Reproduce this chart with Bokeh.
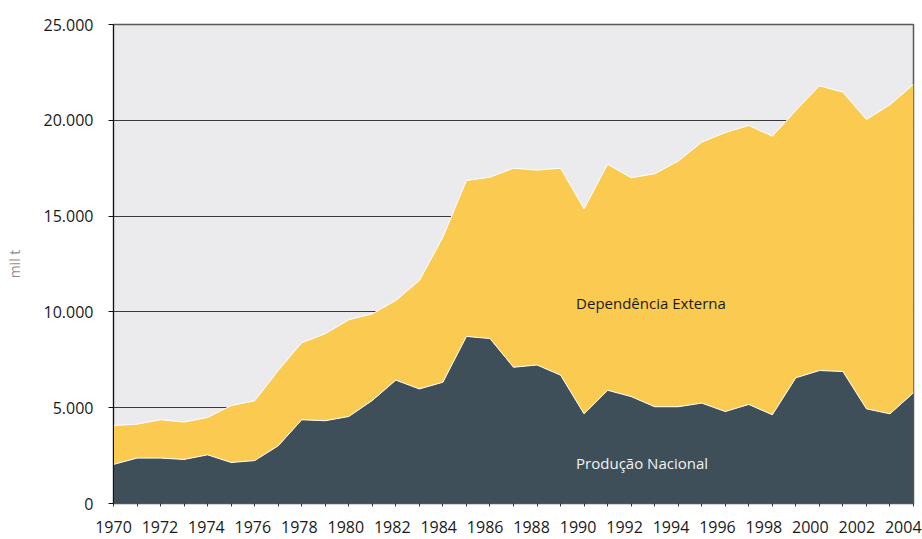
import pandas as pd
from bokeh.plotting import figure
from bokeh.models import (ColumnDataSource, FixedTicker, Range1d, LinearAxis, Label,
                          CustomJSTickFormatter)
from bokeh.embed import file_html
from bokeh.resources import INLINE

# ---------------- data (mil t) ----------------
years = list(range(1970, 2005))
producao = [2040, 2370, 2370, 2300, 2540, 2140, 2240, 3010, 4370, 4320,
            4540, 5380, 6440, 5980, 6330, 8720, 8610, 7110, 7230, 6700,
            4680, 5910, 5580, 5050, 5050, 5240, 4800, 5170, 4630, 6560,
            6940, 6890, 4940, 4680, 5780]
dependencia = [2030, 1770, 2000, 1950, 1950, 2970, 3120, 3930, 4020, 4540,
               5050, 4520, 4160, 5660, 7570, 8140, 8420, 10390, 10170, 10800,
               10700, 11800, 11420, 12160, 12820, 13620, 14560, 14560, 14540, 13950,
               14860, 14580, 15100, 16130, 16090]
series_names = ["Produção Nacional", "Dependência Externa"]
y_ticks = [0, 5000, 10000, 15000, 20000, 25000]
y_tick_labels = ["0", "5.000", "10.000", "15.000", "20.000", "25.000"]
x_label_years = list(range(1970, 2005, 2))
y_axis_title = "mil t"

# ---------------- styling ----------------
DARK = "#3F4F5A"
YELLOW = "#FBCB51"
BG = "#EBEBED"
FONT = "Open Sans"

df = pd.DataFrame({"year": years, "prod": producao, "dep": dependencia})
df["total"] = df["prod"] + df["dep"]
src = ColumnDataSource(df)

p = figure(width=922, height=539,
           x_range=Range1d(years[0], years[-1]), y_range=Range1d(y_ticks[0], y_ticks[-1]),
           output_backend="svg", toolbar_location=None,
           min_border_left=113, min_border_right=9, min_border_top=24, min_border_bottom=36)

p.background_fill_color = BG
p.border_fill_color = "white"
p.outline_line_color = "#5a5a5a"
p.outline_line_width = 1.5

p.varea_stack(stackers=["prod", "dep"], x="year", color=[DARK, YELLOW], source=src)
p.line("year", "prod", source=src, line_color="white", line_width=1)
p.line("year", "total", source=src, line_color="white", line_width=1)

# grid
p.xgrid.visible = False
p.ygrid.ticker = FixedTicker(ticks=y_ticks)
p.ygrid.grid_line_color = "#3a3a3a"
p.ygrid.grid_line_width = 1.2

# y axis
ya = p.yaxis[0]
ya.ticker = FixedTicker(ticks=y_ticks)
ya.major_label_overrides = dict(zip(y_ticks, y_tick_labels))
ya.axis_line_color = "#111111"
ya.axis_line_width = 1
ya.major_tick_out = 5
ya.major_tick_in = 0
ya.minor_tick_out = 0
ya.minor_tick_in = 0
ya.major_tick_line_color = "#111111"
ya.major_label_standoff = 15
ya.major_label_text_font = FONT
ya.major_label_text_font_size = "16px"
ya.major_label_text_color = "#1a1a1a"
ya.axis_label = y_axis_title
ya.axis_label_text_font = FONT
ya.axis_label_text_font_style = "normal"
ya.axis_label_text_font_size = "14px"
ya.axis_label_text_color = "#8c8c8c"
ya.axis_label_standoff = 17

# x axis: tick marks every year (labels on a separate axis)
xa = p.xaxis[0]
xa.ticker = FixedTicker(ticks=years)
xa.formatter = CustomJSTickFormatter(code="return ''")
xa.axis_line_color = "#555555"
xa.major_tick_out = 3
xa.major_tick_in = 0
xa.minor_tick_out = 0
xa.minor_tick_in = 0
xa.major_tick_line_color = "#333333"
xa.major_label_text_font_size = "0px"
xa.major_label_standoff = 0

p.extra_x_ranges = {"lab": Range1d(years[0], years[-1] + 0.44)}
lab_axis = LinearAxis(x_range_name="lab", ticker=FixedTicker(ticks=x_label_years),
                      major_tick_out=0, major_tick_in=0, minor_tick_out=0, minor_tick_in=0,
                      axis_line_color=None, major_label_standoff=14,
                      major_label_text_font=FONT, major_label_text_font_size="16px",
                      major_label_text_color="#1a1a1a")
p.add_layout(lab_axis, "below")

# series labels
p.add_layout(Label(x=1989.66, y=10490, text=series_names[1], text_align="left",
                   text_baseline="middle", text_font=FONT, text_font_size="15px",
                   text_color="#1a1a1a"))
p.add_layout(Label(x=1989.66, y=2090, text=series_names[0], text_align="left",
                   text_baseline="middle", text_font=FONT, text_font_size="15px",
                   text_color="#f2f2f2"))

open("out.html", "w").write(file_html(p, INLINE))
